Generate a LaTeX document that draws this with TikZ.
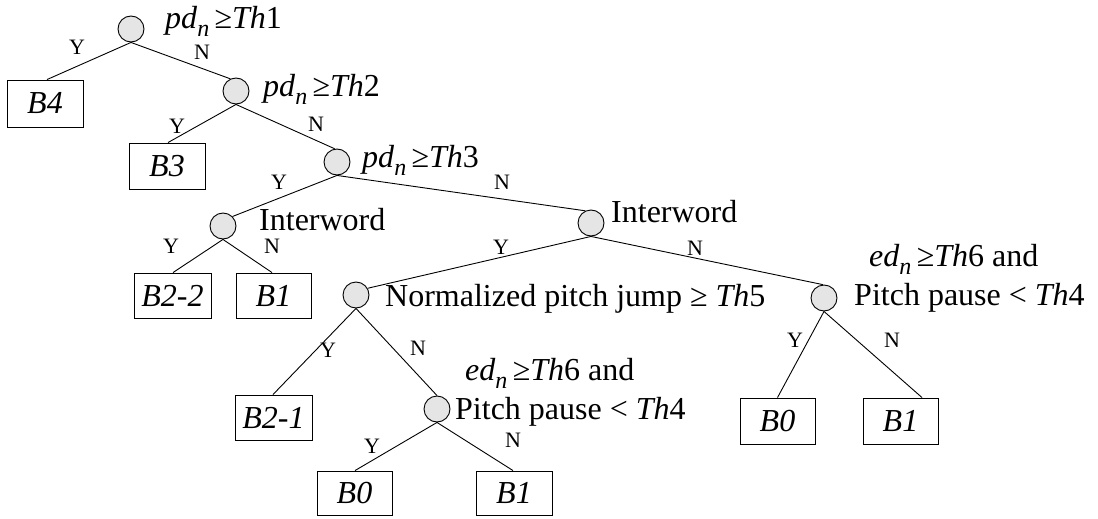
\documentclass[tikz,border=0pt]{standalone}
\usepackage{fontspec}
\setmainfont{Liberation Serif}
\newcommand{\subn}{\raisebox{-0.25em}{\fontsize{24}{24}\selectfont\textit{n}}}
\tikzset{
  dec/.style={circle,draw=black,fill=black!10,line width=0.9pt,minimum size=26pt,inner sep=0pt},
  leaf/.style={rectangle,draw=black,line width=0.9pt,inner sep=0pt,font=\fontsize{32}{36}\selectfont\itshape},
  cond/.style={anchor=base west,inner sep=0pt,font=\fontsize{32}{36}\selectfont},
  yn/.style={inner sep=0pt,font=\fontsize{22}{24}\selectfont},
  edge/.style={line width=0.9pt}
}
\begin{document}
\begin{tikzpicture}[x=1pt,y=-1pt]
\useasboundingbox (0,0) rectangle (1098,519);
% decision nodes
\node[dec] (c1) at (131,29) {};
\node[dec] (c2) at (236,91) {};
\node[dec] (c3) at (337,162) {};
\node[dec] (c4) at (223,226) {};
\node[dec] (c5) at (591,223) {};
\node[dec] (c6) at (356,295) {};
\node[dec] (c7) at (824,298) {};
\node[dec] (c8) at (437,409) {};
% leaves
\node[leaf,minimum width=76pt,minimum height=47pt] (b4) at (45,103.5) {B4};
\node[leaf,minimum width=76pt,minimum height=46pt] (b3) at (167,166) {B3};
\node[leaf,minimum width=77pt,minimum height=45pt] (b22) at (172.5,295.5) {B2-2};
\node[leaf,minimum width=75pt,minimum height=45pt] (b1a) at (273.5,295.5) {B1};
\node[leaf,minimum width=77pt,minimum height=45pt] (b21) at (273.5,417.5) {B2-1};
\node[leaf,minimum width=75pt,minimum height=44pt] (b0a) at (354.5,493) {B0};
\node[leaf,minimum width=76pt,minimum height=44pt] (b1b) at (514,493) {B1};
\node[leaf,minimum width=75pt,minimum height=46pt] (b0b) at (777.5,421) {B0};
\node[leaf,minimum width=75pt,minimum height=46pt] (b1c) at (900.5,421) {B1};
% conditions
\node[cond] (t1) at (165,29) {\textit{pd}\subn\,≥\textit{Th}1};
\node[cond] (t2) at (263,96) {\textit{pd}\subn\,≥\textit{Th}2};
\node[cond] (t3) at (362,167) {\textit{pd}\subn\,≥\textit{Th}3};
\node[cond] (t4) at (259,230) {Interword};
\node[cond] (t5) at (611,222) {Interword};
\node[cond] (t6) at (385,306) {Normalized pitch jump ≥ \textit{Th}5};
\node[cond] (t7a) at (869,266) {\textit{ed}\subn\,≥\textit{Th}6 and};
\node[cond] (t7b) at (854,305) {Pitch pause < \textit{Th}4};
\node[cond] (t8a) at (465,380) {\textit{ed}\subn\,≥\textit{Th}6 and};
\node[cond] (t8b) at (455,419) {Pitch pause < \textit{Th}4};
% connectors
\draw[edge] (c1.south) -- ([xshift=2pt]b4.north);
\draw[edge] (c1.south) -- (c2.115);
\draw[edge] (c2.south) -- ([xshift=1pt]b3.north);
\draw[edge] (c2.south) -- (c3.100);
\draw[edge] (c3.south) -- (c4.45);
\draw[edge] (c3.south) -- (c5.115);
\draw[edge] (c4.south) -- ([xshift=0.5pt]b22.north);
\draw[edge] (c4.south) -- ([xshift=-1.5pt]b1a.north);
\draw[edge] (c5.south) -- (c6.30);
\draw[edge] (c5.south) -- (c7.95);
\draw[edge] (c6.south) -- ([xshift=-0.5pt]b21.north);
\draw[edge] (c6.south) -- (c8.north);
\draw[edge] (c8.south) -- ([xshift=0.5pt]b0a.north);
\draw[edge] (c8.south) -- ([xshift=-1pt]b1b.north);
\draw[edge] (c7.south) -- (b0b.north);
\draw[edge] (c7.south) -- ([xshift=21.5pt]b1c.north);
% Y/N labels
\node[yn] (y1) at (77,47) {Y};
\node[yn] (n1) at (202,52) {N};
\node[yn] (y2) at (177,126) {Y};
\node[yn] (n2) at (316,124) {N};
\node[yn] (y3) at (279,182) {Y};
\node[yn] (n3) at (502,182) {N};
\node[yn] (y4) at (171,246) {Y};
\node[yn] (n4) at (272,246) {N};
\node[yn] (y5) at (501,247) {Y};
\node[yn] (n5) at (695,248) {N};
\node[yn] (y6) at (328,350) {Y};
\node[yn] (n6) at (418,348) {N};
\node[yn] (y8) at (372,446) {Y};
\node[yn] (n8) at (513,440) {N};
\node[yn] (y7) at (795,340) {Y};
\node[yn] (n7) at (892,340) {N};
\end{tikzpicture}
\end{document}
